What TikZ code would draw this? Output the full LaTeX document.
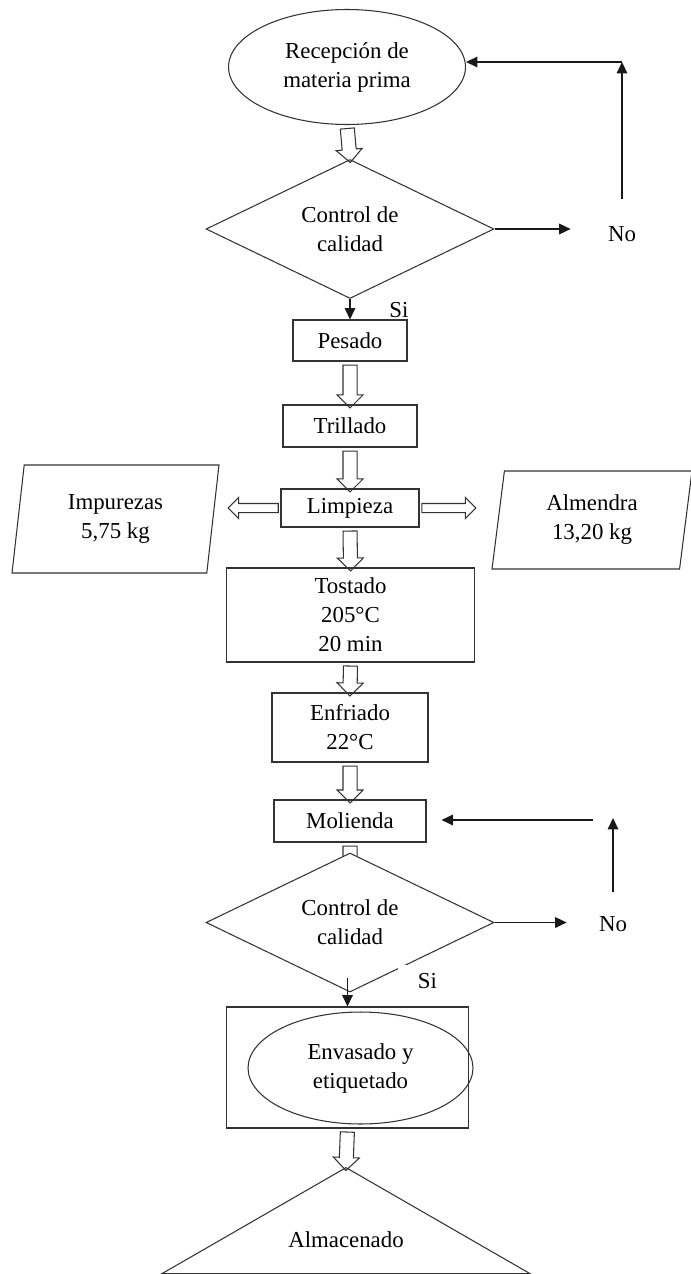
\documentclass[tikz,border=0pt]{standalone}
\usepackage{fontspec}
\setmainfont{Liberation Serif}
\usetikzlibrary{positioning,arrows.meta,shapes.geometric,shapes.arrows,calc,backgrounds}

\begin{document}
\begin{tikzpicture}[x=0.02cm, y=-0.02cm, >={Triangle[length=6.5pt,width=6pt]},
  every node/.style={font=\fontsize{13}{16.5}\selectfont, align=center, inner sep=0pt},
  trazo/.style={draw=black!80, line width=0.6pt},
  flow/.style={draw=black!90, line width=0.8pt, ->},
  proc/.style={trazo, rectangle, fill=white},
  oval/.style={trazo, ellipse, fill=white},
  decision/.style={trazo, diamond, fill=white, aspect=2.07, minimum width=5.76cm, minimum height=2.78cm},
  datos/.style={trazo, trapezium, trapezium left angle=76, trapezium right angle=104, trapezium stretches body, fill=white},
  blk/.style={trazo, single arrow, inner xsep=0pt, inner ysep=0.13cm, single arrow head extend=0.12cm, single arrow head indent=0pt},
  hollow/.style={to path={let \p1=($(\tikztotarget)-(\tikztostart)$), \n1={veclen(\x1,\y1)} in
      (\tikztostart) -- (\tikztotarget) node[blk, midway, sloped, allow upside down, minimum height=\n1, #1] {}}},
  hollow/.default={}]
\useasboundingbox (0,0) rectangle (690,1274);

\node[oval, minimum width=4.74cm, minimum height=2.3cm] (rec) at (347,67) {Recepción de\\materia prima};
\node[decision] (cal1) at (350,229) {Control de\\calidad};
\node[minimum width=2.04cm, minimum height=1.4cm] (no1) at (622,234) {No};
\node (si1) at (399,310) {Si};
\node[proc, minimum width=2.28cm, minimum height=0.82cm] (pes) at (350,340.5) {Pesado};
\node[proc, minimum width=2.68cm, minimum height=0.84cm] (tri) at (350,426) {Trillado};
\node[proc, minimum width=2.76cm, minimum height=0.76cm] (lim) at (350,508) {Limpieza};
\node[datos, minimum width=4.14cm, minimum height=2.16cm] (imp) at (115.5,519) {Impurezas\\5,75 kg};
\node[datos, minimum width=4cm, minimum height=1.96cm] (alm) at (592,520) {Almendra\\13,20 kg};
\node[proc, minimum width=4.96cm, minimum height=1.88cm] (tos) at (350.5,615) {Tostado\\205°C\\20 min};
\node[proc, minimum width=3.12cm, minimum height=1.38cm] (enf) at (350,727.5) {Enfriado\\22°C};
\node[proc, minimum width=3.04cm, minimum height=0.84cm] (mol) at (350,821) {Molienda};
\node[decision] (cal2) at (350,922.5) {Control de\\calidad};
\node[minimum width=1.84cm, minimum height=1.28cm] (no2) at (613,924) {No};
\node[fill=white, minimum width=1.18cm, minimum height=0.66cm] (si2) at (427.5,981.5) {Si};
\node[proc, minimum width=4.84cm, minimum height=2.42cm] (envbox) at (347.5,1067.5) {};
\node[trazo, ellipse, minimum width=4.5cm, minimum height=2.24cm] (env) at (360.5,1068) {Envasado y\\etiquetado};
\node[trazo, isosceles triangle, isosceles triangle apex angle=120, isosceles triangle stretches,
  shape border rotate=90, minimum width=7.36cm, minimum height=2.12cm, anchor=apex] (almc) at (346,1167) {Almacenado};

% flujo principal
\path (rec.south) to[hollow] (cal1.north);
\draw[flow] (cal1.south) -- (pes.north);
\path (pes.south) to[hollow] (tri.north);
\path (tri.south) to[hollow] (lim.north);
\path (lim.west) to[hollow={inner ysep=0.08cm}] ($(lim.west -| imp.east)+(17,0)$);
\path (lim.east) to[hollow={inner ysep=0.08cm}] ($(lim.east -| alm.west)+(-24,0)$);
\path (lim.south) to[hollow] (tos.north);
\path (tos.south) to[hollow] (enf.north);
\path (enf.south) to[hollow] (mol.north);
\begin{scope}[on background layer]
\path (mol.south) to[hollow] ($(cal2.north)+(0,18)$);
\end{scope}
\draw[flow] ($(envbox.north |- cal2.south)+(0,-15)$) -- (envbox.north);
\path (envbox.south) to[hollow] (almc.apex);

% retornos
\draw[flow] (cal1.east) -- (cal1.east -| no1.west);
\coordinate (c1) at (622,62);
\draw[flow] (no1.north) -- (c1);
\draw[flow] (c1) -- (c1 -| rec.east);
\draw[flow] (cal2.east) -- (cal2.east -| no2.west);
\coordinate (c2) at (613,818);
\draw[flow] (no2.north) -- (c2);
\coordinate (c3) at (593,820);
\draw[flow, shorten >=0.3cm] (c3) -- (c3 -| mol.east);
\end{tikzpicture}
\end{document}
